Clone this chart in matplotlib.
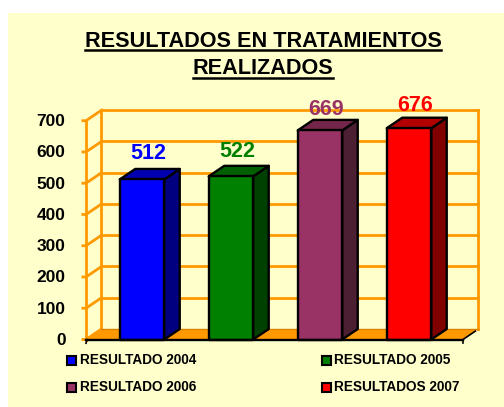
import matplotlib
matplotlib.use('Agg')
import matplotlib.pyplot as plt
from matplotlib.patches import Polygon, Rectangle
from matplotlib.lines import Line2D

plt.rcParams['font.family'] = ['Liberation Sans', 'DejaVu Sans']

title_lines = ['RESULTADOS EN TRATAMIENTOS', 'REALIZADOS']
categories = ['RESULTADO 2004', 'RESULTADO 2005', 'RESULTADO 2006', 'RESULTADOS 2007']
values = [512, 522, 669, 676]
y_ticks = [0, 100, 200, 300, 400, 500, 600, 700]

front_colors = ['#0000FF', '#008000', '#993366', '#FF0000']
side_colors = ['#000080', '#004000', '#4D1F33', '#800000']
top_colors = ['#0000B0', '#006000', '#732649', '#B00000']
label_colors = ['#0000FF', '#008000', '#993366', '#FF0000']
label_gaps = [51, 45, 32, 38]

BG = '#FFFFCC'
ORANGE = '#FF9900'
W, H = 504, 407

fig = plt.figure(figsize=(W / 100, H / 100), dpi=100, facecolor='white')

# cream panel, white strip stays on the left and top
fig.add_artist(Rectangle((8 / W, 0), (W - 8) / W, (H - 13) / H, fc=BG, ec='none',
                         transform=fig.transFigure, zorder=-5))

# axes is the front plane of the fake 3d box
left, right, bottom, top = 86, 463, 339.5, 120.7
ax = fig.add_axes([left / W, 1 - bottom / H, (right - left) / W, (bottom - top) / H])
ax.set_xlim(-0.629, 3.607)
ax.set_ylim(0, 700)
ax.axis('off')

# depth in data units
dx = 15.5 / 89
dy = 33.6
x0, x1 = ax.get_xlim()
bar_w = 0.5
grid_lw = 2

# floor
ax.add_patch(Polygon([(x0, 0), (x0 + dx, dy), (x1 + dx, dy), (x1, 0)], closed=True,
                     fc=ORANGE, ec='none', clip_on=False, zorder=1))
ax.plot([x0 + dx, x1 + dx], [dy, dy], color='#D98200', lw=1, clip_on=False, zorder=1.5)

# walls and grid
for t in y_ticks[1:]:
    ax.plot([x0 + dx, x1 + dx], [t + dy, t + dy], color=ORANGE, lw=grid_lw, clip_on=False, zorder=1)
for t in y_ticks:
    ax.plot([x0 - 0.035, x0, x0 + dx], [t, t, t + dy], color=ORANGE, lw=grid_lw, clip_on=False, zorder=1)
ax.plot([x0, x0], [0, 700], color=ORANGE, lw=grid_lw, clip_on=False, zorder=1)
ax.plot([x0 + dx, x0 + dx], [dy, 700 + dy], color=ORANGE, lw=grid_lw, clip_on=False, zorder=1)
ax.plot([x1 + dx, x1 + dx], [dy, 700 + dy], color=ORANGE, lw=grid_lw, clip_on=False, zorder=1)

# bars
for i, v in enumerate(values):
    a, b = i - bar_w / 2, i + bar_w / 2
    style = dict(closed=True, ec='black', lw=1.7, clip_on=False, joinstyle='round', zorder=3)
    ax.add_patch(Polygon([(b, 0), (b + dx, dy), (b + dx, v + dy), (b, v)], fc=side_colors[i], **style))
    ax.add_patch(Polygon([(a, v), (a + dx, v + dy), (b + dx, v + dy), (b, v)], fc=top_colors[i], **style))
    ax.add_patch(Polygon([(a, 0), (a, v), (b, v), (b, 0)], fc=front_colors[i], **style))
    ax.text(i + 0.07, v + dy + label_gaps[i], str(v), color=label_colors[i], fontsize=15.5,
            fontweight='bold', ha='center', va='center', zorder=5, clip_on=False)

# front edge of floor
ax.plot([x0, x1], [0, 0], color='black', lw=1.7, clip_on=False, zorder=4)
ax.plot([x0, x0 + 0.012], [-12, 0], color='black', lw=1.2, clip_on=False, zorder=4)
ax.plot([x1, x1], [-12, 0], color='black', lw=1.2, clip_on=False, zorder=4)
ax.plot([x1, x1 + dx * 0.8], [0, dy * 0.8], color='black', lw=1.2, clip_on=False, zorder=4)

for t in y_ticks:
    ax.text(x0 - 0.23, t - 3, str(t), fontsize=12.5, fontweight='bold', ha='right', va='center',
            color='black', clip_on=False)

# title with underline
fig.canvas.draw()
renderer = fig.canvas.get_renderer()
for line, base, under in zip(title_lines, [47, 74], [50, 78]):
    txt = fig.text(263 / W, 1 - base / H, line, fontsize=15.6, fontweight='bold',
                   ha='center', va='baseline', color='black')
    bb = txt.get_window_extent(renderer)
    fig.add_artist(Line2D([bb.x0 / W, bb.x1 / W], [1 - under / H] * 2, color='black', lw=1.8))

# legend
legend_x = [67, 322]
legend_y = [360, 387]
for i, name in enumerate(categories):
    lx = legend_x[i % 2]
    ly = legend_y[i // 2]
    fig.add_artist(Rectangle((lx / W, 1 - (ly + 4.5) / H), 9 / W, 9 / H, fc=front_colors[i],
                             ec='black', lw=1.5, transform=fig.transFigure))
    fig.text((lx + 12.5) / W, 1 - ly / H, name, fontsize=9.8, fontweight='bold',
             ha='left', va='center', color='black')

fig.savefig('out.png', dpi=100, facecolor='white')
